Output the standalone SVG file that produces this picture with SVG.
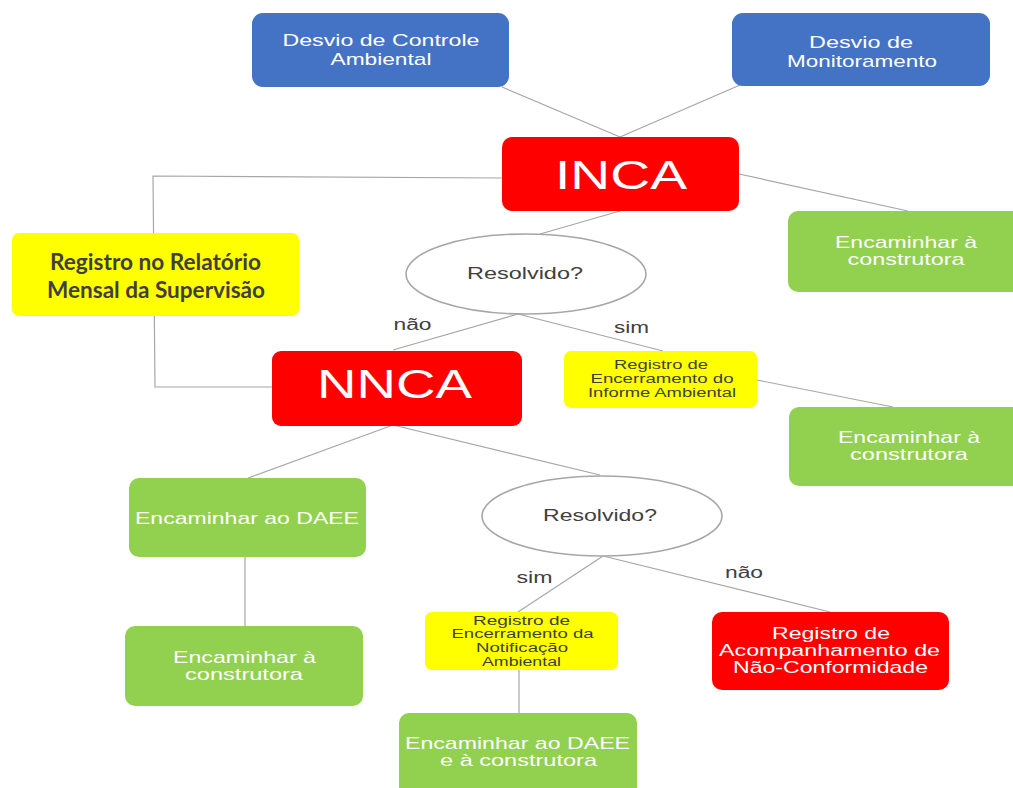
<svg xmlns="http://www.w3.org/2000/svg" width="1013" height="788" viewBox="0 0 1013 788">
<style>
.box{stroke:none}
.blue{fill:#4472C4}
.red{fill:#FF0000}
.green{fill:#92D050}
.yellow{fill:#FFFF00}
.ell{fill:#FFFFFF;stroke:#A6A6A6;stroke-width:1.6}
.conn{fill:none;stroke:#A6A6A6;stroke-width:1.2}
text{font-family:"Liberation Sans",Arial,sans-serif;text-anchor:middle}
.w{fill:#FFFFFF}
.d{fill:#404040}
.big{font-size:40px}
.m{font-size:17px}
.s{font-size:12.5px}
.ys{font-size:13.5px}
.bold{font-family:Lato,"Liberation Sans",sans-serif;font-weight:bold;font-size:22px;fill:#3F3F3F}
</style>
<rect width="1013" height="788" fill="#FFFFFF"/>
<g id="connectors">
<line class="conn" x1="502" y1="87" x2="620" y2="137"/>
<line class="conn" x1="740" y1="85" x2="620" y2="137"/>
<polyline class="conn" points="502,178 153,176 155,387 272,387"/>
<line class="conn" x1="739" y1="174" x2="908" y2="211"/>
<line class="conn" x1="620" y1="211" x2="540" y2="234"/>
<line class="conn" x1="518" y1="314" x2="393" y2="350"/>
<line class="conn" x1="518" y1="314" x2="663" y2="351"/>
<line class="conn" x1="757" y1="380" x2="893" y2="407"/>
<line class="conn" x1="393" y1="425" x2="248" y2="478"/>
<line class="conn" x1="393" y1="425" x2="600" y2="475"/>
<line class="conn" x1="245" y1="557" x2="245" y2="626"/>
<line class="conn" x1="603" y1="556" x2="518" y2="612"/>
<line class="conn" x1="603" y1="556" x2="830" y2="612"/>
<line class="conn" x1="519" y1="670" x2="519" y2="713"/>
</g>
<g id="desvio-controle">
<rect class="box blue" x="252" y="13" width="257" height="74" rx="11"/>
<text class="w m" x="381" y="46" textLength="197" lengthAdjust="spacingAndGlyphs">Desvio de Controle</text>
<text class="w m" x="381" y="65" textLength="101" lengthAdjust="spacingAndGlyphs">Ambiental</text>
</g>
<g id="desvio-monitoramento">
<rect class="box blue" x="732" y="13" width="258" height="73" rx="11"/>
<text class="w m" x="861" y="48" textLength="104" lengthAdjust="spacingAndGlyphs">Desvio de</text>
<text class="w m" x="862" y="67" textLength="150" lengthAdjust="spacingAndGlyphs">Monitoramento</text>
</g>
<g id="inca">
<rect class="box red" x="502" y="137" width="237" height="74" rx="10"/>
<text class="w big" x="621" y="189" textLength="132" lengthAdjust="spacingAndGlyphs">INCA</text>
</g>
<g id="registro-relatorio">
<rect class="box yellow" x="12" y="233" width="287" height="83" rx="7"/>
<text class="bold" x="155.5" y="270" textLength="211" lengthAdjust="spacingAndGlyphs">Registro no Relatório</text>
<text class="bold" x="156" y="298" textLength="218" lengthAdjust="spacingAndGlyphs">Mensal da Supervisão</text>
</g>
<g id="encaminhar-construtora-1">
<rect class="box green" x="788" y="211" width="240" height="81" rx="10"/>
<text class="w m" x="906" y="248" textLength="142" lengthAdjust="spacingAndGlyphs">Encaminhar à</text>
<text class="w m" x="906" y="265" textLength="117" lengthAdjust="spacingAndGlyphs">construtora</text>
</g>
<g id="resolvido-1">
<ellipse class="ell" cx="526" cy="274" rx="120" ry="40"/>
<text class="d" style="font-size:16.5px" x="525" y="279" textLength="116" lengthAdjust="spacingAndGlyphs">Resolvido?</text>
</g>
<g id="labels-1">
<text class="d" style="font-size:16px" x="412.5" y="330" textLength="38" lengthAdjust="spacingAndGlyphs">não</text>
<text class="d" style="font-size:16px" x="631.5" y="333" textLength="35" lengthAdjust="spacingAndGlyphs">sim</text>
</g>
<g id="nnca">
<rect class="box red" x="272" y="351" width="250" height="75" rx="9"/>
<text class="w big" x="394.5" y="398" textLength="155" lengthAdjust="spacingAndGlyphs">NNCA</text>
</g>
<g id="registro-encerramento-informe">
<rect class="box yellow" x="564" y="351" width="193" height="57" rx="7" stroke="#E0E080" stroke-width="0.8"/>
<text class="d s" x="661" y="368.5" textLength="94" lengthAdjust="spacingAndGlyphs">Registro de</text>
<text class="d s" x="662" y="382.5" textLength="143" lengthAdjust="spacingAndGlyphs">Encerramento do</text>
<text class="d s" x="662" y="396.5" textLength="148" lengthAdjust="spacingAndGlyphs">Informe Ambiental</text>
</g>
<g id="encaminhar-construtora-2">
<rect class="box green" x="789" y="407" width="240" height="79" rx="10"/>
<text class="w m" x="909" y="443" textLength="142" lengthAdjust="spacingAndGlyphs">Encaminhar à</text>
<text class="w m" x="909" y="460" textLength="118" lengthAdjust="spacingAndGlyphs">construtora</text>
</g>
<g id="encaminhar-daee">
<rect class="box green" x="129" y="478" width="237" height="79" rx="10"/>
<text class="w m" x="247" y="524" textLength="224" lengthAdjust="spacingAndGlyphs">Encaminhar ao DAEE</text>
</g>
<g id="encaminhar-construtora-3">
<rect class="box green" x="125" y="626" width="238" height="80" rx="10"/>
<text class="w m" x="244.5" y="663" textLength="143" lengthAdjust="spacingAndGlyphs">Encaminhar à</text>
<text class="w m" x="244" y="680" textLength="118" lengthAdjust="spacingAndGlyphs">construtora</text>
</g>
<g id="resolvido-2">
<ellipse class="ell" cx="602" cy="516" rx="120" ry="40"/>
<text class="d" style="font-size:16.5px" x="600" y="521" textLength="114" lengthAdjust="spacingAndGlyphs">Resolvido?</text>
</g>
<g id="labels-2">
<text class="d" style="font-size:16px" x="534.5" y="583" textLength="36" lengthAdjust="spacingAndGlyphs">sim</text>
<text class="d" style="font-size:16px" x="744" y="578" textLength="38" lengthAdjust="spacingAndGlyphs">não</text>
</g>
<g id="registro-encerramento-notificacao">
<rect class="box yellow" x="425" y="612" width="193" height="58" rx="7" stroke="#E0E080" stroke-width="0.8"/>
<text class="d ys" x="521.5" y="625" textLength="97" lengthAdjust="spacingAndGlyphs">Registro de</text>
<text class="d ys" x="522.5" y="638" textLength="142" lengthAdjust="spacingAndGlyphs">Encerramento da</text>
<text class="d ys" x="522" y="652" textLength="92" lengthAdjust="spacingAndGlyphs">Notificação</text>
<text class="d ys" x="521.5" y="666" textLength="79" lengthAdjust="spacingAndGlyphs">Ambiental</text>
</g>
<g id="encaminhar-daee-construtora">
<rect class="box green" x="399" y="713" width="238" height="90" rx="10"/>
<text class="w m" x="517.5" y="749" textLength="225" lengthAdjust="spacingAndGlyphs">Encaminhar ao DAEE</text>
<text class="w m" x="518.5" y="766" textLength="157" lengthAdjust="spacingAndGlyphs">e à construtora</text>
</g>
<g id="registro-acompanhamento">
<rect class="box red" x="712" y="612" width="237" height="78" rx="10"/>
<text class="w" style="font-size:16px" x="831" y="638.5" textLength="118" lengthAdjust="spacingAndGlyphs">Registro de</text>
<text class="w" style="font-size:16px" x="829.5" y="655.5" textLength="221" lengthAdjust="spacingAndGlyphs">Acompanhamento de</text>
<text class="w" style="font-size:16px" x="830.5" y="672.5" textLength="195" lengthAdjust="spacingAndGlyphs">Não-Conformidade</text>
</g>
</svg>
